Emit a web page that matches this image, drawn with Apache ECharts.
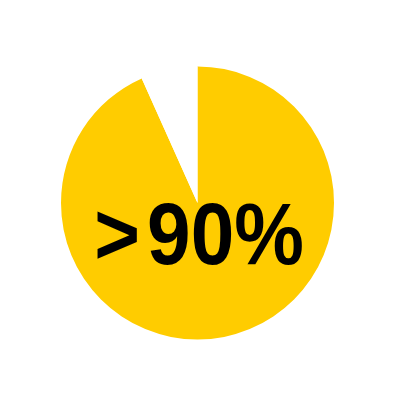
<!DOCTYPE html>
<html lang="en">
<head>
    <meta charset="UTF-8">
    <title>Pie share</title>
    <script src="https://cdn.jsdelivr.net/npm/echarts@6.0.0/dist/echarts.min.js"></script>
    <style>
        html, body { margin: 0; padding: 0; background: #fff; }
    </style>
</head>
<body>
<div id="chart" style="width: 400px;height:400px;"></div>

<script>
    // slice values (share of the whole)
    var sliceNames = ['Yes', 'No'];
    var sliceValues = [93.3, 6.7];
    var sliceColors = ['#FFCC00', '#FFFFFF'];
    var headPrefix = '>';
    var headValue = '90%';

    var chart = echarts.init(document.getElementById('chart'));
    var headFont = 'bold 87px "Liberation Sans", Arial, sans-serif';
    var option = {
        animation: false,
        // headline drawn condensed: squeeze a bold sans horizontally
        graphic: [{
            type: 'text',
            x: 199,
            y: 240,
            scaleX: 0.9,
            z: 10,
            style: {
                text: '{p|' + headPrefix + '}{v|' + headValue + '}',
                x: 0,
                y: 0,
                align: 'center',
                verticalAlign: 'middle',
                font: headFont,
                fill: '#000',
                rich: {
                    p: { font: headFont, fill: '#000', padding: [0, 8, 0, 0] },
                    v: { font: headFont, fill: '#000' }
                }
            }
        }],
        series: [{
            type: 'pie',
            center: [197.5, 203],
            radius: [0, 136.5],
            startAngle: 90,
            clockwise: true,
            label: { show: false },
            labelLine: { show: false },
            emphasis: { disabled: true },
            itemStyle: { borderWidth: 0 },
            data: sliceNames.map(function (n, i) {
                return { name: n, value: sliceValues[i], itemStyle: { color: sliceColors[i] } };
            })
        }]
    };
    chart.setOption(option);
</script>
</body>
</html>
